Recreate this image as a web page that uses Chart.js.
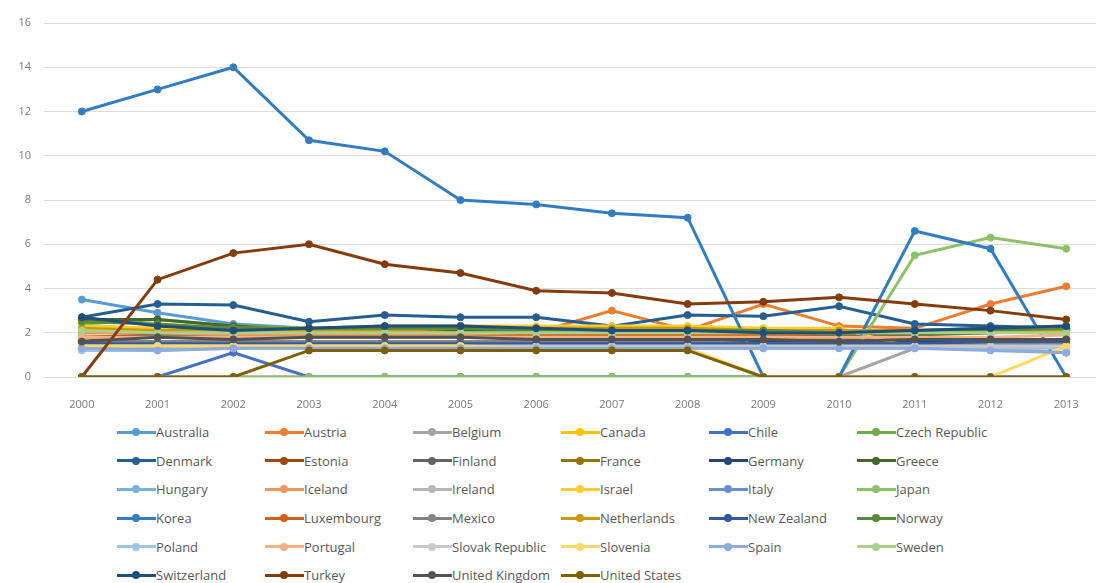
<!DOCTYPE html>
<html>
<head>
<meta charset="utf-8">
<script src="https://cdn.jsdelivr.net/npm/chart.js@4/dist/chart.umd.min.js"></script>
<style>
  html, body { margin:0; padding:0; background:#fff; overflow:hidden; }
  #wrap { position:relative; width:1101px; height:583px; }
  #chart-box { position:absolute; left:0; top:0; width:1101px; height:410px; }
  #legend { position:absolute; left:117px; top:418px; display:grid;
            grid-template-columns:repeat(6, 148px); grid-auto-rows:28.6px;
            font-family:"Open Sans", sans-serif; font-size:13px; color:#595959; }
  .item { display:flex; align-items:center; white-space:nowrap; }
  .swatch { position:relative; width:39px; height:10px; flex:none; }
  .swatch i { position:absolute; left:0; right:0; top:3.5px; height:3px; }
  .swatch b { position:absolute; left:15px; top:1px; width:8px; height:8px; border-radius:50%; }
</style>
</head>
<body>
<div id="wrap">
  <div id="chart-box"><canvas id="chart" width="1101" height="410"></canvas></div>
  <div id="legend"></div>
</div>
<script>
// --- Datos ---
const years = [2000,2001,2002,2003,2004,2005,2006,2007,2008,2009,2010,2011,2012,2013];
const yTicks = [0,2,4,6,8,10,12,14,16];

const countries = ['Australia','Austria','Belgium','Canada','Chile','Czech Republic',
  'Denmark','Estonia','Finland','France','Germany','Greece',
  'Hungary','Iceland','Ireland','Israel','Italy','Japan',
  'Korea','Luxembourg','Mexico','Netherlands','New Zealand','Norway',
  'Poland','Portugal','Slovak Republic','Slovenia','Spain','Sweden',
  'Switzerland','Turkey','United Kingdom','United States'];

const australia   = [3.5,2.9,2.4,2.2,2.2,2.2,2.1,2.1,2.1,2.1,2.0,2.1,2.2,2.3];
const austria     = [2.0,2.0,1.9,1.9,2.0,2.1,2.0,3.0,2.1,3.3,2.3,2.2,3.3,4.1];
const belgium     = [0,0,0,0,0,0,0,0,0,0,0,1.3,1.3,1.1];
const canada      = [2.3,2.2,2.1,2.1,2.2,2.3,2.2,2.2,2.2,2.2,2.1,2.1,2.1,2.0];
const chile       = [0,0,1.1,0,0,0,0,0,0,0,0,0,0,0];
const czech       = [2.4,2.6,2.3,2.2,2.3,2.3,2.2,2.2,2.2,2.1,2.0,2.1,2.2,2.2];
const denmark     = [2.7,3.3,3.25,2.5,2.8,2.7,2.7,2.3,2.8,2.75,3.2,2.4,2.3,2.2];
const estonia     = [1.8,1.9,1.9,1.9,1.9,1.9,1.9,1.9,1.9,1.9,1.9,2.0,2.0,2.1];
const finland     = [1.6,1.9,1.8,1.8,1.8,1.8,1.8,1.8,1.8,1.7,1.7,1.7,1.7,1.7];
const france      = [1.5,1.5,1.5,1.5,1.5,1.5,1.5,1.5,1.5,1.5,1.5,1.5,1.5,1.5];
const germany     = [1.6,1.6,1.6,1.6,1.6,1.6,1.6,1.6,1.6,1.6,1.6,1.6,1.6,1.7];
const greece      = [2.6,2.6,2.3,2.1,2.2,2.1,2.0,2.0,2.0,2.0,1.9,1.9,2.0,2.1];
const hungary     = [1.3,1.3,1.3,1.4,1.4,1.4,1.4,1.4,1.4,1.4,1.4,1.5,1.5,1.5];
const iceland     = [2.0,2.0,1.9,1.9,1.9,1.9,1.9,1.9,1.9,2.0,2.0,2.0,2.1,2.2];
const ireland     = [1.5,1.5,1.5,1.5,1.5,1.5,1.5,1.5,1.5,1.5,1.5,1.4,1.4,1.4];
const israel      = [2.3,2.2,2.2,2.2,2.2,2.3,2.3,2.3,2.3,2.2,2.2,1.3,1.3,1.4];
const italy       = [1.4,1.4,1.4,1.4,1.4,1.4,1.4,1.4,1.4,1.4,1.4,1.4,1.4,1.4];
const japan       = [0,0,0,0,0,0,0,0,0,0,0,5.5,6.3,5.8];
const korea       = [12,13,14,10.7,10.2,8.0,7.8,7.4,7.2,0,0,6.6,5.8,0];
const luxembourg  = [1.8,1.8,1.8,1.8,1.8,1.8,1.9,1.9,1.9,1.9,2.0,2.0,2.1,2.2];
const mexico      = [1.6,1.6,1.6,1.6,1.6,1.6,1.6,1.6,1.6,1.5,1.5,1.5,1.5,1.5];
const netherlands = [2.2,2.1,2.1,2.1,2.1,2.2,2.2,2.2,2.2,2.1,2.1,2.1,2.1,2.1];
const newZealand  = [1.5,1.5,1.5,1.5,1.5,1.5,1.5,1.5,1.5,1.5,1.5,1.5,1.6,1.6];
const norway      = [2.5,2.4,2.2,2.2,2.2,2.2,2.1,2.1,2.1,2.1,2.0,2.1,2.1,2.2];
const poland      = [1.2,1.2,1.3,1.3,1.3,1.3,1.3,1.3,1.3,1.3,1.3,1.3,1.3,1.3];
const portugal    = [1.8,1.8,1.8,1.8,1.8,1.8,1.8,1.8,1.8,1.8,1.8,1.8,1.8,1.9];
const slovakia    = [1.4,1.4,1.4,1.4,1.4,1.4,1.4,1.4,1.4,1.4,1.4,1.4,1.4,1.4];
const slovenia    = [1.4,1.4,1.4,1.4,1.4,1.4,1.3,1.3,1.3,0,0,0,0,1.4];
const spain       = [1.3,1.2,1.3,1.3,1.3,1.3,1.3,1.3,1.3,1.3,1.3,1.3,1.2,1.1];
const sweden      = [2.1,2.0,2.0,2.0,2.0,2.0,2.0,2.0,2.0,2.0,2.0,2.0,2.0,2.0];
const switzerland = [2.7,2.3,2.1,2.2,2.3,2.3,2.2,2.1,2.1,2.0,2.0,2.1,2.2,2.3];
const turkey      = [0,4.4,5.6,6.0,5.1,4.7,3.9,3.8,3.3,3.4,3.6,3.3,3.0,2.6];
const unitedKingdom = [1.6,1.8,1.7,1.8,1.8,1.8,1.7,1.7,1.7,1.7,1.6,1.7,1.7,1.7];
const unitedStates  = [0,0,0,1.2,1.2,1.2,1.2,1.2,1.2,0,0,0,0,0];

const seriesValues = [australia, austria, belgium, canada, chile, czech,
  denmark, estonia, finland, france, germany, greece,
  hungary, iceland, ireland, israel, italy, japan,
  korea, luxembourg, mexico, netherlands, newZealand, norway,
  poland, portugal, slovakia, slovenia, spain, sweden,
  switzerland, turkey, unitedKingdom, unitedStates];

// paleta tipo Office (acentos + variantes)
const colors = ['#5B9BD5','#ED7D31','#A5A5A5','#FFC000','#4472C4','#70AD47',
  '#255E91','#9E480E','#636363','#997300','#264478','#43682B',
  '#7CAFDD','#F1975A','#B7B7B7','#FFCD33','#698ED0','#8CC168',
  '#327DC2','#D26012','#848484','#CC9A00','#335AA1','#5A8A39',
  '#9DC3E6','#F4B183','#C9C9C9','#FFD966','#8FAADC','#A9D18E',
  '#1F4E79','#843C0C','#525252','#7F6000'];

// --- Datasets ---
const datasets = countries.map((name, i) => ({
  label: name,
  data: years.map((yr, j) => ({ x: yr, y: seriesValues[i][j] })),
  borderColor: colors[i],
  backgroundColor: colors[i],
  order: countries.length - i   // la última serie queda encima
}));

const chart = new Chart(document.getElementById('chart'), {
  type: 'line',
  data: { datasets },
  options: {
    responsive: false,
    animation: false,
    events: [],
    layout: { padding: { top: 23, right: 0, bottom: 0, left: 0 } },
    elements: {
      line: { borderWidth: 3, tension: 0 },
      point: { radius: 3.5, borderWidth: 1, hoverRadius: 3.5 }
    },
    plugins: { legend: { display: false }, tooltip: { enabled: false } },
    scales: {
      x: {
        type: 'linear', min: 1999.5, max: 2013.4,
        grid: { display: false },
        border: { display: false },
        afterFit: s => { s.height = 33; },
        ticks: { stepSize: 1, includeBounds: false, autoSkip: false, maxRotation: 0,
                 padding: 13, color: '#7a7a7a', font: { family: 'Open Sans', size: 11 },
                 callback: v => String(v) }
      },
      y: {
        min: 0, max: 16,
        grid: { color: '#DDDDDD', lineWidth: 1, drawTicks: false },
        border: { display: false },
        afterFit: s => { s.width = 44; },
        afterBuildTicks: s => { s.ticks = yTicks.map(v => ({ value: v })); },
        ticks: { padding: 13, color: '#7a7a7a', font: { family: 'Open Sans', size: 11 } }
      }
    }
  }
});

// --- Leyenda HTML en columnas fijas ---
const legendEl = document.getElementById('legend');
countries.forEach((name, i) => {
  const item = document.createElement('div');
  item.className = 'item';
  item.innerHTML = `<span class="swatch"><i style="background:${colors[i]}"></i><b style="background:${colors[i]}"></b></span><span>${name}</span>`;
  legendEl.appendChild(item);
});
</script>
</body>
</html>
